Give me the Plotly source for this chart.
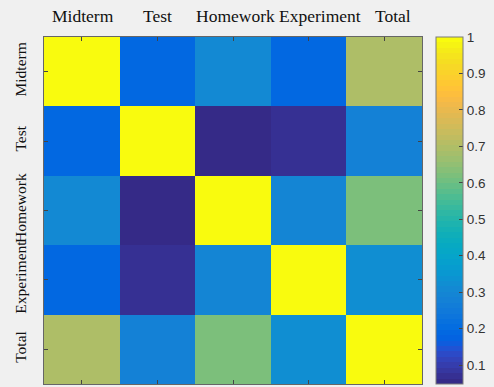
import plotly.graph_objects as go

# Correlation matrix between course assessment components
labels = ["Midterm", "Test", "Homework", "Experiment", "Total"]

midterm = [1.00, 0.19, 0.31, 0.19, 0.70]
test = [0.19, 1.00, 0.048, 0.07, 0.275]
homework = [0.31, 0.048, 1.00, 0.29, 0.62]
experiment = [0.19, 0.07, 0.29, 1.00, 0.325]
total = [0.70, 0.275, 0.62, 0.325, 1.00]

matrix = [midterm, test, homework, experiment, total]

cbar_ticks = [0.1, 0.2, 0.3, 0.4, 0.5, 0.6, 0.7, 0.8, 0.9, 1.0]
cbar_text = ["0.1", "0.2", "0.3", "0.4", "0.5", "0.6", "0.7", "0.8", "0.9", "1"]

# horizontal nudges (px) for the column headers so long names don't collide
header_shift = [1, 0, 2, 11, 9]

# MATLAB parula (64 entries), used as a stepped colorscale
parula = [
    (0.2081, 0.1663, 0.5292), (0.2116, 0.1898, 0.5777), (0.2123, 0.2138, 0.6270),
    (0.2081, 0.2386, 0.6771), (0.1959, 0.2645, 0.7279), (0.1707, 0.2919, 0.7792),
    (0.1253, 0.3242, 0.8303), (0.0591, 0.3598, 0.8683), (0.0117, 0.3875, 0.8820),
    (0.0060, 0.4086, 0.8828), (0.0165, 0.4266, 0.8786), (0.0329, 0.4430, 0.8720),
    (0.0498, 0.4586, 0.8641), (0.0629, 0.4737, 0.8554), (0.0723, 0.4887, 0.8467),
    (0.0779, 0.5040, 0.8384), (0.0793, 0.5200, 0.8312), (0.0749, 0.5375, 0.8263),
    (0.0641, 0.5570, 0.8240), (0.0488, 0.5772, 0.8228), (0.0343, 0.5966, 0.8199),
    (0.0265, 0.6137, 0.8135), (0.0239, 0.6287, 0.8038), (0.0231, 0.6418, 0.7913),
    (0.0228, 0.6535, 0.7768), (0.0267, 0.6642, 0.7607), (0.0384, 0.6743, 0.7436),
    (0.0590, 0.6838, 0.7254), (0.0843, 0.6928, 0.7062), (0.1133, 0.7015, 0.6859),
    (0.1453, 0.7098, 0.6646), (0.1801, 0.7177, 0.6424), (0.2178, 0.7250, 0.6193),
    (0.2586, 0.7317, 0.5954), (0.3022, 0.7376, 0.5712), (0.3482, 0.7424, 0.5473),
    (0.3953, 0.7459, 0.5244), (0.4420, 0.7481, 0.5033), (0.4871, 0.7491, 0.4840),
    (0.5300, 0.7491, 0.4661), (0.5709, 0.7485, 0.4494), (0.6099, 0.7473, 0.4337),
    (0.6473, 0.7456, 0.4188), (0.6834, 0.7435, 0.4044), (0.7184, 0.7411, 0.3905),
    (0.7525, 0.7384, 0.3768), (0.7858, 0.7356, 0.3633), (0.8185, 0.7327, 0.3498),
    (0.8507, 0.7299, 0.3360), (0.8824, 0.7274, 0.3217), (0.9139, 0.7258, 0.3063),
    (0.9450, 0.7261, 0.2886), (0.9739, 0.7314, 0.2666), (0.9938, 0.7455, 0.2403),
    (0.9990, 0.7653, 0.2164), (0.9955, 0.7861, 0.1967), (0.9880, 0.8066, 0.1794),
    (0.9789, 0.8271, 0.1633), (0.9697, 0.8481, 0.1475), (0.9626, 0.8705, 0.1309),
    (0.9589, 0.8949, 0.1132), (0.9598, 0.9218, 0.0948), (0.9661, 0.9514, 0.0755),
    (0.9763, 0.9831, 0.0538),
]

n = len(parula)
colorscale = []
for i, (r, g, b) in enumerate(parula):
    c = f"rgb({round(r*255)},{round(g*255)},{round(b*255)})"
    colorscale.append([i / n, c])
    colorscale.append([(i + 1) / n, c])

zmin = min(min(row) for row in matrix)
zmax = max(max(row) for row in matrix)

fig = go.Figure(
    go.Heatmap(
        z=matrix,
        x=labels,
        y=labels,
        zmin=zmin,
        zmax=zmax,
        colorscale=colorscale,
        colorbar=dict(
            x=1.0366,
            xanchor="left",
            xpad=0,
            y=0.5,
            yanchor="middle",
            len=1.0,
            lenmode="fraction",
            ypad=0,
            thickness=27,
            thicknessmode="pixels",
            outlinecolor="#7a7a7a",
            outlinewidth=1,
            tickmode="array",
            tickvals=cbar_ticks,
            ticktext=cbar_text,
            ticks="inside",
            ticklen=4,
            tickcolor="#444444",
            tickfont=dict(family="Liberation Sans, Arial", size=13.5, color="#333333"),
        ),
    )
)

serif = "Liberation Serif, Times New Roman"

# column headers above the matrix
for name, dx in zip(labels, header_shift):
    fig.add_annotation(
        x=name,
        xref="x",
        y=1,
        yref="paper",
        yanchor="bottom",
        yshift=9,
        xshift=dx,
        text=name,
        showarrow=False,
        font=dict(family=serif, size=17.5, color="#111111"),
    )

fig.update_xaxes(
    side="top",
    ticks="inside",
    ticklen=4,
    tickcolor="#444444",
    showline=True,
    linecolor="#666666",
    linewidth=1,
    mirror="ticks",
    showticklabels=False,
    automargin=False,
    showgrid=False,
    zeroline=False,
)
fig.update_yaxes(
    autorange="reversed",
    ticks="inside",
    ticklen=4,
    tickcolor="#444444",
    showline=True,
    linecolor="#666666",
    linewidth=1,
    mirror="ticks",
    tickangle=-90,
    tickfont=dict(family=serif, size=15.5, color="#111111"),
    ticklabelstandoff=11,
    automargin=False,
    showgrid=False,
    zeroline=False,
)

fig.update_layout(
    width=494,
    height=387,
    margin=dict(l=44, r=68, t=37, b=3, pad=0),
    paper_bgcolor="#f0f0f0",
    plot_bgcolor="#f0f0f0",
)

fig.write_html("out.html")
